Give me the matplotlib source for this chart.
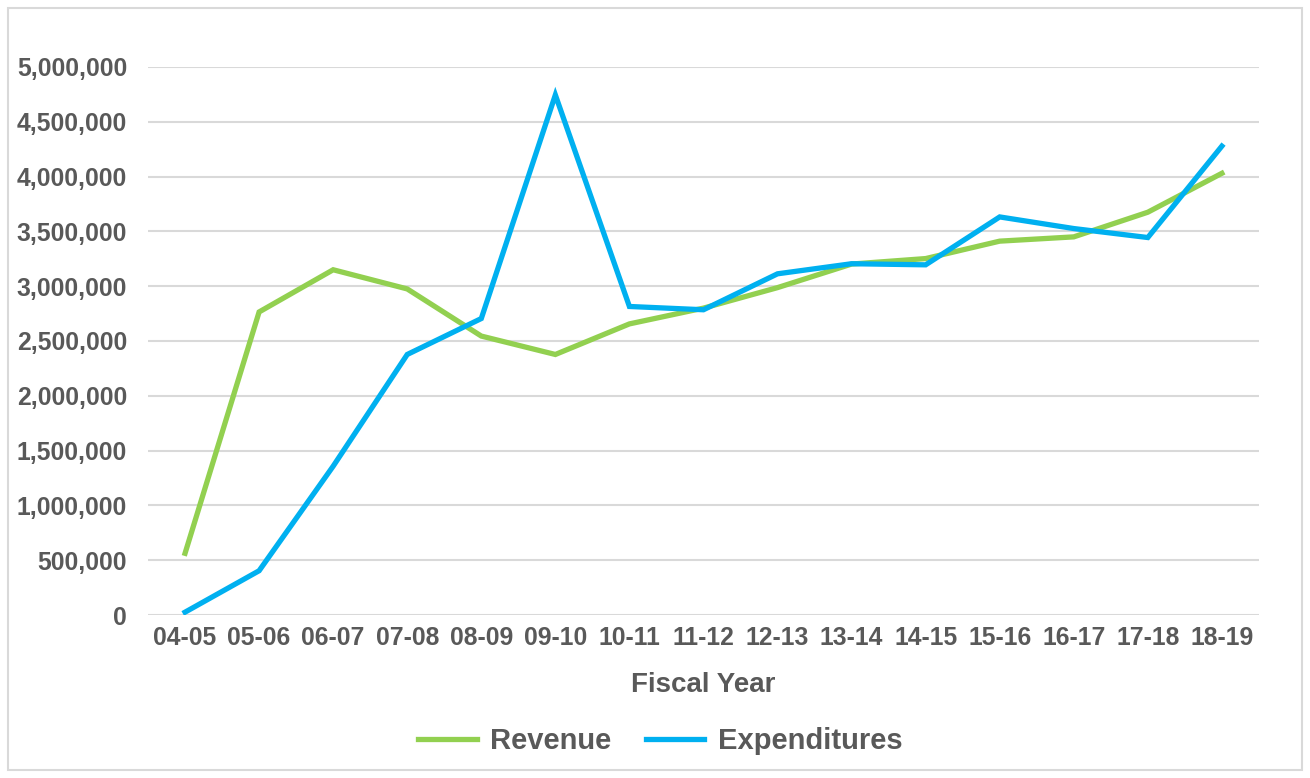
import matplotlib.pyplot as plt
from matplotlib.patches import Rectangle
from matplotlib.ticker import FuncFormatter

plt.rcParams['font.family'] = ['Liberation Sans', 'DejaVu Sans']

# fiscal years and values
years = ['04-05', '05-06', '06-07', '07-08', '08-09', '09-10', '10-11', '11-12',
         '12-13', '13-14', '14-15', '15-16', '16-17', '17-18', '18-19']
revenue = [563000, 2765000, 3150000, 2975000, 2545000, 2377000, 2656000, 2800000,
           2987000, 3202000, 3252000, 3411000, 3450000, 3675000, 4030000]
expenditures = [26000, 404000, 1358000, 2377000, 2705000, 4745000, 2815000, 2785000,
                3113000, 3205000, 3195000, 3632000, 3526000, 3444000, 4278000]

green = '#92D050'
blue = '#00B0F0'
text_grey = '#595959'

fig = plt.figure(figsize=(13.1, 7.78), dpi=100)
ax = fig.add_axes([0.113, 0.2095, 0.848, 0.7044])

x = range(len(years))
ax.plot(x, revenue, color=green, lw=3.8, label='Revenue', solid_joinstyle='miter')
ax.plot(x, expenditures, color=blue, lw=3.8, label='Expenditures', solid_joinstyle='miter')

ax.set_xlim(-0.5, len(years) - 0.5)
ax.set_ylim(0, 5000000)
ax.set_yticks(range(0, 5000001, 500000))
ax.yaxis.set_major_formatter(FuncFormatter(lambda v, p: '{:,.0f}'.format(v)))
ax.set_xticks(list(x))
ax.set_xticklabels(years)

ax.grid(axis='y', color='#D9D9D9', lw=1.5)
ax.set_axisbelow(True)
for s in ax.spines.values():
    s.set_visible(False)
ax.tick_params(length=0, labelsize=17.8, labelcolor=text_grey)
ax.tick_params(axis='y', pad=15)
ax.tick_params(axis='x', pad=8)
for lab in ax.get_xticklabels() + ax.get_yticklabels():
    lab.set_fontweight('bold')

ax.set_xlabel('Fiscal Year', fontsize=20, fontweight='bold', color=text_grey, labelpad=16)

fig.legend(loc='center', bbox_to_anchor=(0.504, 0.047), ncol=2, frameon=False,
           prop={'size': 21, 'weight': 'bold'}, labelcolor=text_grey,
           handlelength=2.0, columnspacing=1.2, handletextpad=0.45)

# light border around the chart area
fig.patches.append(Rectangle((0.006, 0.01), 0.988, 0.98, transform=fig.transFigure,
                             fill=False, edgecolor='#D9D9D9', lw=1.5))

fig.savefig('out.png', dpi=100)
